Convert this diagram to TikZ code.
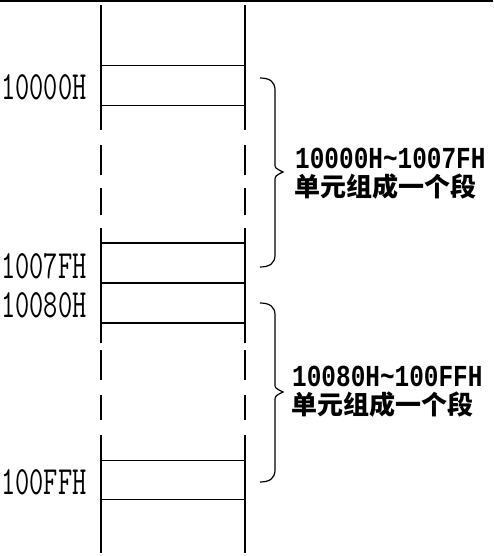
\documentclass[tikz,border=0pt]{standalone}
\usepackage{fontspec}
\usepackage{graphicx}
\newfontfamily\hexfont{Liberation Mono}
\newfontfamily\cjk{Noto Sans CJK SC}
\usetikzlibrary{positioning}
\tikzset{
  rail/.style     = {draw=black, line width=1.3pt},
  railr/.style    = {draw=black, line width=2pt},
  rowline/.style  = {draw=black, line width=1pt},
  rowthick/.style = {draw=black, line width=2pt},
  addr/.style     = {font=\ttfamily\fontsize{27.6}{27}\selectfont, anchor=west, inner sep=0pt},
  seghex/.style   = {font=\hexfont\bfseries\fontsize{24.4}{24}\selectfont, anchor=west, inner sep=0pt},
  segcn/.style    = {font=\cjk\bfseries\fontsize{26}{26}\selectfont, anchor=west, inner sep=0pt},
  bracel/.style   = {draw=black, line width=1.2pt},
}
\newcommand{\tallhex}[1]{\scalebox{1}[1.45]{#1}}
\newcommand{\boldhex}[1]{\scalebox{1}[1.25]{#1}}
\begin{document}
\begin{tikzpicture}[x=1pt,y=-1pt]
  \useasboundingbox (0,0) rectangle (493,556);
  \draw[black, line width=1.5pt] (0,1) -- (493,1);

  % memory column, broken by gaps
  \foreach \a/\b in {5/130, 145/175, 188/215, 228/343, 350/380, 395/420, 435/553} {
    \draw[rail] (101,\a) -- (101,\b);
    \draw[railr] (245,\a) -- (245,\b);
  }
  \foreach \y in {66, 106, 460, 499} {
    \draw[rowline] (101,\y) -- (245,\y);
  }
  \foreach \y in {243, 283, 323} {
    \draw[rowthick] (101,\y) -- (245,\y);
  }

  % addresses
  \node[addr] (a10000) at (1,87) {\tallhex{10000H}};
  \node[addr] (a1007f) at (1,266) {\tallhex{1007FH}};
  \node[addr] (a10080) at (1,305) {\tallhex{10080H}};
  \node[addr] (a100ff) at (1,482) {\tallhex{100FFH}};

  % ---- segment 1 ----
  \draw[bracel] (260,78) .. controls (270,78) and (275,82) .. (275,90) -- (275,164)
    .. controls (275,168) .. (283,172) .. controls (275,176) .. (275,181) -- (275,255)
    .. controls (275,263) and (270,267) .. (260,267);
  \node[seghex] (seg1hex) at (295,158) {\boldhex{10000H\char"7E 1007FH}};
  \node[segcn] (seg1cn) at (294,187) {单元组成一个段};

  % ---- segment 2 ----
  \draw[bracel] (260,303) .. controls (270,303) and (275,307) .. (275,315) -- (275,384)
    .. controls (275,388) .. (283,392) .. controls (275,396) .. (275,401) -- (275,470)
    .. controls (275,478) and (270,482) .. (260,482);
  \node[seghex] (seg2hex) at (292,376) {\boldhex{10080H\char"7E 100FFH}};
  \node[segcn] (seg2cn) at (291,405) {单元组成一个段};
\end{tikzpicture}
\end{document}
